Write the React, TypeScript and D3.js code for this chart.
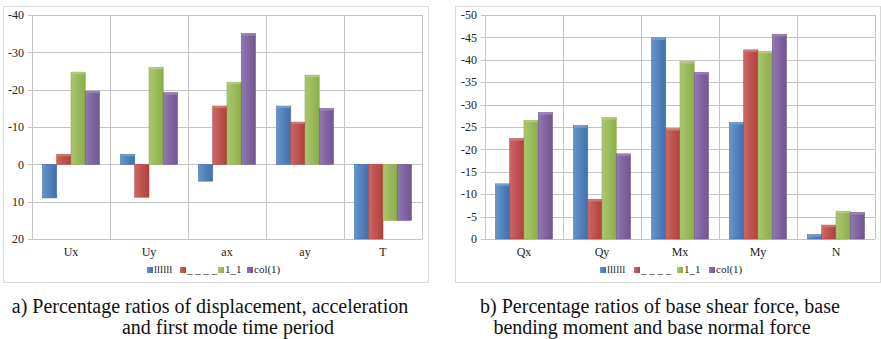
import React from "react";
import * as d3 from "d3";

const seriesNames = ["llllll", "_ _ _ _", "1_1", "col(1)"];
const seriesColors = ["#4F81BD", "#C0504D", "#9BBB59", "#8064A2"];

const catsA = ["Ux", "Uy", "ax", "ay", "T"];
const a_s1 = [9, -2.7, 4.5, -15.6, 20];
const a_s2 = [-2.7, 8.8, -15.6, -11.3, 20];
const a_s3 = [-24.7, -26, -22, -23.9, 15];
const a_s4 = [-19.6, -19.2, -35, -15, 15];
const ticksA = [-40, -30, -20, -10, 0, 10, 20];

const catsB = ["Qx", "Qy", "Mx", "My", "N"];
const b_s1 = [-12.3, -25.3, -44.9, -26, -1];
const b_s2 = [-22.4, -8.8, -24.6, -42.2, -3.1];
const b_s3 = [-26.5, -27.1, -39.6, -41.9, -6.2];
const b_s4 = [-28.2, -19, -37.2, -45.7, -5.9];
const ticksB = [-50, -45, -40, -35, -30, -25, -20, -15, -10, -5, 0];

const captionA = ["a) Percentage ratios of displacement, acceleration", "and first mode time period"];
const captionB = ["b) Percentage ratios of base shear force, base", "bending moment and base normal force"];

const FONT = '"Liberation Serif"';

function shade(c: string, k: number) {
  const col = d3.hsl(c);
  return k > 0 ? col.brighter(k).formatHex() : col.darker(-k).formatHex();
}

type ChartProps = {
  id: string;
  frame: { x: number; y: number; w: number; h: number };
  plot: { l: number; r: number; t: number; b: number };
  cats: string[];
  series: number[][];
  domain: [number, number];
  ticks: number[];
  legendX: number[];
};

function Chart({ id, frame, plot, cats, series, domain, ticks, legendX }: ChartProps) {
  const x0 = d3.scaleBand<string>().domain(cats).range([plot.l, plot.r]).padding(0);
  const x1 = d3
    .scaleBand<number>()
    .domain(series.map((_, i) => i))
    .range([0, x0.bandwidth()])
    .paddingInner(0)
    .paddingOuter(0.737);
  const y = d3.scaleLinear().domain(domain).range([plot.t, plot.b]);
  const zero = y(0);
  const grid = "#C4C4C4";
  return (
    <g>
      <defs>
        {seriesColors.map((c, i) => (
          <linearGradient key={i} id={`${id}-g${i}`} x1="0" x2="1" y1="0" y2="0">
            <stop offset="0" stopColor={shade(c, 0.35)} />
            <stop offset="0.45" stopColor={shade(c, 0.05)} />
            <stop offset="1" stopColor={shade(c, -0.35)} />
          </linearGradient>
        ))}
      </defs>
      <rect x={frame.x + 0.5} y={frame.y + 0.5} width={frame.w} height={frame.h} fill="#fff" stroke="#D9D9D9" />
      {ticks.map((t) => (
        <g key={t}>
          <line x1={plot.l - 4} x2={plot.r} y1={Math.round(y(t)) + 0.5} y2={Math.round(y(t)) + 0.5} stroke={grid} />
          <text x={plot.l - 8} y={y(t)} dy="0.35em" textAnchor="end" style={{ fontFamily: FONT, fontSize: 12 }} fill="#222">
            {String(t)}
          </text>
        </g>
      ))}
      {cats.map((c) => (
        <line
          key={c}
          x1={Math.round(x0(c)!) + 0.5}
          x2={Math.round(x0(c)!) + 0.5}
          y1={plot.t}
          y2={plot.b}
          stroke={grid}
        />
      ))}
      <line x1={plot.r + 0.5} x2={plot.r + 0.5} y1={plot.t} y2={plot.b} stroke={grid} />
      {cats.map((c, ci) =>
        series.map((s, si) => {
          const v = s[ci];
          const bx = x0(c)! + x1(si)!;
          const bw = x1.bandwidth();
          const top = Math.min(y(v), zero);
          const h = Math.abs(y(v) - zero);
          return (
            <g key={`${c}-${si}`}>
              <rect x={bx} y={top} width={bw} height={h} fill={`url(#${id}-g${si})`} stroke={shade(seriesColors[si], -0.3)} strokeWidth={0.6} />
              {v < 0 && <rect x={bx + 0.5} y={top} width={bw - 1} height={Math.min(2, h)} fill={shade(seriesColors[si], 0.6)} opacity={0.8} />}
            </g>
          );
        })
      )}
      {cats.map((c) => (
        <text key={c} x={x0(c)! + x0.bandwidth() / 2} y={plot.b + 17} textAnchor="middle" style={{ fontFamily: FONT, fontSize: 12 }} fill="#222">
          {c}
        </text>
      ))}
      {seriesNames.map((n, i) => (
        <g key={n}>
          <rect x={legendX[i]} y={267} width={6} height={6} fill={`url(#${id}-g${i})`} />
          <text x={legendX[i] + 7} y={273} style={{ fontFamily: FONT, fontSize: 11 }} fill="#222">
            {n}
          </text>
        </g>
      ))}
    </g>
  );
}

export default function App() {
  return (
    <svg width={881} height={339} style={{ display: "block", position: "absolute", left: 0, top: 0 }}>
      <rect width={881} height={339} fill="#fff" />
      <Chart
        id="a"
        frame={{ x: 3, y: 6, w: 425, h: 276 }}
        plot={{ l: 32, r: 422, t: 15, b: 239 }}
        cats={catsA}
        series={[a_s1, a_s2, a_s3, a_s4]}
        domain={[-40, 20]}
        ticks={ticksA}
        legendX={[147, 180, 218, 247]}
      />
      <Chart
        id="b"
        frame={{ x: 455, y: 6, w: 425, h: 276 }}
        plot={{ l: 485, r: 875, t: 15, b: 239 }}
        cats={catsB}
        series={[b_s1, b_s2, b_s3, b_s4]}
        domain={[-50, 0]}
        ticks={ticksB}
        legendX={[600, 634, 677, 709]}
      />
      {captionA.map((t, i) => (
        <text key={i} x={i === 0 ? 210 : 228} y={313 + i * 21} textAnchor="middle" style={{ fontFamily: FONT, fontSize: 20 }} fill="#111">
          {t}
        </text>
      ))}
      {captionB.map((t, i) => (
        <text key={i} x={i === 0 ? 660 : 652} y={313 + i * 21} textAnchor="middle" style={{ fontFamily: FONT, fontSize: 20 }} fill="#111">
          {t}
        </text>
      ))}
    </svg>
  );
}
